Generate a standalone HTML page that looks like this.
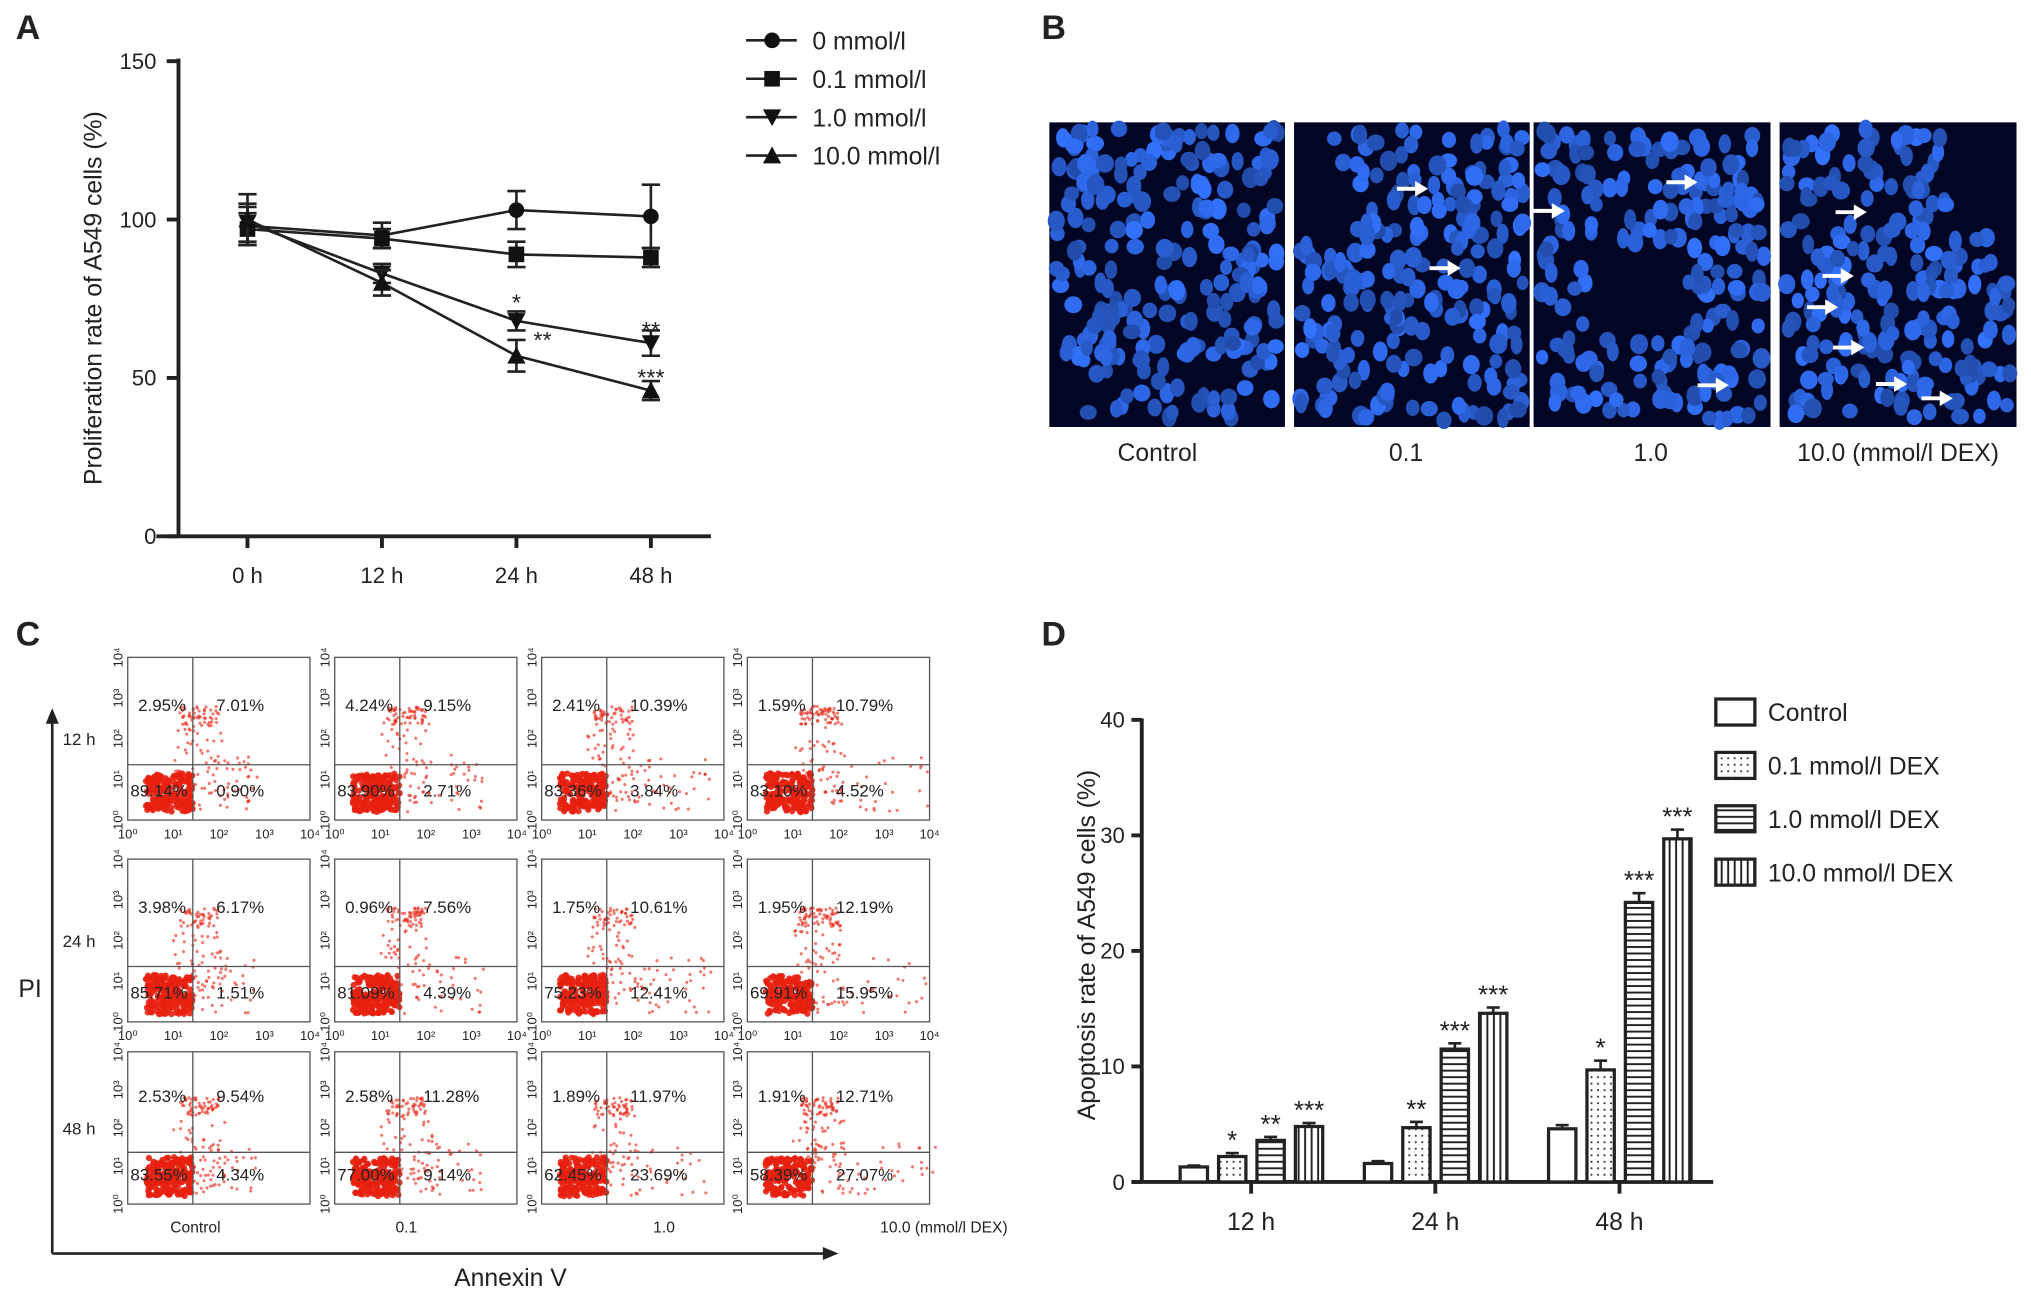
<!DOCTYPE html>
<html><head><meta charset="utf-8"><style>
html,body{margin:0;padding:0;background:#fff}
svg{display:block}
text{font-family:"Liberation Sans",Arial,sans-serif;fill:#222}
</style></head><body>
<svg id="fig" width="2031" height="1290" viewBox="0 0 1560 991" xmlns="http://www.w3.org/2000/svg">
<g id="panelA"></g>
<g id="panelB"></g>
<g id="panelC"></g>
<g id="panelD"></g>
</svg>
<script>
// Panel A data
const aCats = ["0 h","12 h","24 h","48 h"];
const aS0 = [98,95,103,101];
const aS01 = [97,94,89,88];
const aS1 = [99,83,68,61];
const aS10 = [100,80,57,46];
const aErr0 = [6,4,6,10];
const aErr01 = [5,3,4,3];
const aErr1 = [6,3,3,4];
const aErr10 = [8,4,5,3];
const aYTicks = [0,50,100,150];
const aSeriesNames = ["0 mmol/l","0.1 mmol/l","1.0 mmol/l","10.0 mmol/l"];
// Panel D data
const dCats = ["12 h","24 h","48 h"];
const dCtrl = [1.3,1.6,4.6];
const d01 = [2.2,4.7,9.7];
const d1 = [3.6,11.5,24.2];
const d10 = [4.8,14.6,29.7];
const dErr = [0.3,0.5,0.8];
const dYTicks = [0,10,20,30,40];
const dStars01 = ["*","**","*"];
const dStars1 = ["**","***","***"];
const dStars10 = ["***","***","***"];
const dNames = ["Control","0.1 mmol/l  DEX","1.0 mmol/l  DEX","10.0 mmol/l  DEX"];

const NS="http://www.w3.org/2000/svg";
function mk(parent,tag,attrs,txt){const e=document.createElementNS(NS,tag);for(const k in attrs)e.setAttribute(k,attrs[k]);if(txt!==undefined)e.textContent=txt;parent.appendChild(e);return e;}

// ---------- Panel A ----------
const A=document.getElementById('panelA');
const ay=v=>412-(v/150)*365;
const ax=i=>190+i*103.3;
let t=mk(A,'text',{x:12,y:30,'font-size':26,'font-weight':'bold','font-family':'Liberation Serif'},'A');

mk(A,'line',{x1:137,y1:45,x2:137,y2:413,stroke:'#222','stroke-width':3});
mk(A,'line',{x1:120,y1:412,x2:546,y2:412,stroke:'#222','stroke-width':3});
aYTicks.forEach(v=>{mk(A,'line',{x1:128,y1:ay(v),x2:137,y2:ay(v),stroke:'#222','stroke-width':3});
 const tt=mk(A,'text',{x:120,y:ay(v)+6,'font-size':17,'text-anchor':'end'},v);
 });
aCats.forEach((c,i)=>{mk(A,'line',{x1:ax(i),y1:412,x2:ax(i),y2:421,stroke:'#222','stroke-width':3});
 const tt=mk(A,'text',{x:ax(i),y:448,'font-size':17,'text-anchor':'middle'},c);
 });
t=mk(A,'text',{x:78,y:229,'font-size':19,'text-anchor':'middle',transform:'rotate(-90 78 229)'},'Proliferation rate of A549 cells (%)');

function marker(g,type,x,y){
 if(type===0)mk(g,'circle',{cx:x,cy:y,r:6,fill:'#111'});
 else if(type===1)mk(g,'rect',{x:x-6,y:y-6,width:12,height:12,fill:'#111'});
 else if(type===2)mk(g,'polygon',{points:`${x-7},${y-6} ${x+7},${y-6} ${x},${y+7}`,fill:'#111'});
 else mk(g,'polygon',{points:`${x-7},${y+6} ${x+7},${y+6} ${x},${y-7}`,fill:'#111'});
}
[[aS0,aErr0],[aS01,aErr01],[aS1,aErr1],[aS10,aErr10]].forEach(([s,e],k)=>{
 const g=mk(A,'g',{});
 mk(g,'polyline',{points:s.map((v,i)=>ax(i)+','+ay(v)).join(' '),fill:'none',stroke:'#222','stroke-width':2});
 s.forEach((v,i)=>{const x=ax(i);
  mk(g,'line',{x1:x,y1:ay(v+e[i]),x2:x,y2:ay(v-e[i]),stroke:'#222','stroke-width':2});
  mk(g,'line',{x1:x-7,y1:ay(v+e[i]),x2:x+7,y2:ay(v+e[i]),stroke:'#222','stroke-width':2});
  mk(g,'line',{x1:x-7,y1:ay(v-e[i]),x2:x+7,y2:ay(v-e[i]),stroke:'#222','stroke-width':2});
  marker(g,k,x,ay(v));});
});
[[ax(2),ay(aS1[2])-18,'*'],[ax(2)+20,ay(aS10[2])-16,'**'],[ax(3),ay(aS1[3])-14,'**'],[ax(3),ay(aS10[3])-14,'***']].forEach(a=>{
 const tt=mk(A,'text',{x:a[0],y:a[1]+10,'font-size':18,'text-anchor':'middle'},a[2]);
 });
aSeriesNames.forEach((n,k)=>{const y=31+k*29.5;
 const g=mk(A,'g',{});
 mk(g,'line',{x1:573,y1:y,x2:612,y2:y,stroke:'#222','stroke-width':2});marker(g,k,593,y);
 mk(g,'text',{x:624,y:y+7,'font-size':19},n);});

// ---------- Panel B ----------
const B=document.getElementById('panelB');
t=mk(B,'text',{x:800,y:30,'font-size':26,'font-weight':'bold','font-family':'Liberation Serif'},'B');

const bx=[806,994,1178,1367],bw=[181,181,182,182];
let seed=7;const rnd=()=>{seed=(seed*9301+49297)%233280;return seed/233280;};
bx.forEach((x0,p)=>{const g=mk(B,'g',{});
 mk(g,'rect',{x:x0,y:94,width:bw[p],height:234,fill:'#020624'});
 for(let i=0;i<230;i++){const cx=x0+5+rnd()*(bw[p]-10),cy=99+rnd()*224;
  if(p===1&&cx<x0+30&&cy<180)continue;if(p===2&&cx>x0+40&&cx<x0+110&&cy>190&&cy<260)continue;if(p===3&&cx>x0+130&&cy<180)continue;
  const b=170+Math.floor(rnd()*85);mk(g,'ellipse',{cx,cy,rx:4.5+rnd()*2.5,ry:5.5+rnd()*2.5,fill:`rgb(${Math.floor(b*0.2)},${Math.floor(b*0.45)},${b})`});}
});
[[1085,145],[1110,206],[1190,162],[1292,140],[1316,296],[1422,163],[1412,212],[1400,236],[1420,267],[1453,295],[1488,306]].forEach(a=>{
 const g=mk(B,'g',{});
 mk(g,'line',{x1:a[0]-12,y1:a[1],x2:a[0]+4,y2:a[1],stroke:'#fff','stroke-width':3});
 mk(g,'polygon',{points:`${a[0]+12},${a[1]} ${a[0]+2},${a[1]-6} ${a[0]+2},${a[1]+6}`,fill:'#fff'});});
[[889,'Control'],[1080,'0.1'],[1268,'1.0'],[1458,'10.0 (mmol/l  DEX)']].forEach(a=>{
 const tt=mk(B,'text',{x:a[0],y:354,'font-size':19,'text-anchor':'middle'},a[1]);});

// ---------- Panel C ----------
const C=document.getElementById('panelC');
t=mk(C,'text',{x:12,y:496,'font-size':26,'font-weight':'bold','font-family':'Liberation Serif'},'C');

mk(C,'line',{x1:40,y1:963,x2:40,y2:550,stroke:'#222','stroke-width':2});
mk(C,'polygon',{points:'40,544 35,556 45,556',fill:'#222'});
mk(C,'line',{x1:40,y1:963,x2:636,y2:963,stroke:'#222','stroke-width':2});
mk(C,'polygon',{points:'644,963 632,958 632,968',fill:'#222'});
t=mk(C,'text',{x:14,y:766,'font-size':19},'PI');
t=mk(C,'text',{x:392,y:988,'font-size':19,'text-anchor':'middle'},'Annexin V');
const cx0=[98,257,416,574],cy0=[505,660,808],ch=[125,125,117],cw=140;
const pct=[
[["2.95%","7.01%","89.14%","0.90%"],["4.24%","9.15%","83.90%","2.71%"],["2.41%","10.39%","83.36%","3.84%"],["1.59%","10.79%","83.10%","4.52%"]],
[["3.98%","6.17%","85.71%","1.51%"],["0.96%","7.56%","81.09%","4.39%"],["1.75%","10.61%","75.23%","12.41%"],["1.95%","12.19%","69.91%","15.95%"]],
[["2.53%","9.54%","83.55%","4.34%"],["2.58%","11.28%","77.00%","9.14%"],["1.89%","11.97%","62.45%","23.69%"],["1.91%","12.71%","58.39%","27.07%"]]];
const rowLab=["12 h","24 h","48 h"];
cy0.forEach((y0,r)=>{
 let tt=mk(C,'text',{x:48,y:y0+ch[r]/2+5,'font-size':13},rowLab[r]);
 cx0.forEach((x0,c)=>{const g=mk(C,'g',{});
  const h=ch[r],qx=x0+50,qy=y0+h*0.66;
  for(let i=0;i<320;i++){let px,py,rr=rnd();
   if(rr<0.55){px=x0+14+rnd()*36;py=y0+h-6-rnd()*30;}
   else if(rr<0.72){px=x0+40+rnd()*30;py=y0+h*0.3+rnd()*14;}
   else if(rr<0.88){px=x0+35+rnd()*40;py=y0+h*0.4+rnd()*h*0.5;}
   else{px=x0+50+rnd()*50*(1+c*0.3);py=y0+h*0.6+rnd()*h*0.35;}
   mk(g,'circle',{cx:px,cy:py,r:rr<0.55?2.4:1.2,fill:'#e8200f','fill-opacity':rr<0.55?0.9:0.6});}
  mk(g,'rect',{x:x0,y:y0,width:cw,height:h,fill:'none',stroke:'#555','stroke-width':1});
  mk(g,'line',{x1:qx,y1:y0,x2:qx,y2:y0+h,stroke:'#555','stroke-width':1});
  mk(g,'line',{x1:x0,y1:qy,x2:x0+cw,y2:qy,stroke:'#555','stroke-width':1});
  const p=pct[r][c];
  mk(g,'text',{x:x0+8,y:y0+h*0.33,'font-size':13},p[0]);
  mk(g,'text',{x:qx+18,y:y0+h*0.33,'font-size':13},p[1]);
  mk(g,'text',{x:x0+2,y:y0+h-18,'font-size':13},p[2]);
  mk(g,'text',{x:qx+18,y:y0+h-18,'font-size':13},p[3]);
  ["10⁰","10¹","10²","10³","10⁴"].forEach((s,k)=>{mk(g,'text',{x:x0-4,y:y0+h-k*h/4,'font-size':10,'text-anchor':'middle',transform:`rotate(-90 ${x0-4} ${y0+h-k*h/4})`},s);
   if(r<2)mk(g,'text',{x:x0+k*cw/4,y:y0+h+14,'font-size':10,'text-anchor':'middle'},s);});
 });});
[[150,'Control'],[312,'0.1'],[510,'1.0'],[725,'10.0 (mmol/l  DEX)']].forEach(a=>{const tt=mk(C,'text',{x:a[0],y:947,'font-size':12,'text-anchor':'middle'},a[1]);});

// ---------- Panel D ----------
const D=document.getElementById('panelD');
t=mk(D,'text',{x:800,y:496,'font-size':26,'font-weight':'bold','font-family':'Liberation Serif'},'D');

const dy=v=>908-(v/40)*355;
const gx=i=>961+i*141.5;
mk(D,'line',{x1:877,y1:552,x2:877,y2:909,stroke:'#222','stroke-width':3});
mk(D,'line',{x1:870,y1:908,x2:1316,y2:908,stroke:'#222','stroke-width':3});
dYTicks.forEach(v=>{mk(D,'line',{x1:869,y1:dy(v),x2:877,y2:dy(v),stroke:'#222','stroke-width':3});
 const tt=mk(D,'text',{x:864,y:dy(v)+6,'font-size':17,'text-anchor':'end'},v);});
dCats.forEach((c,i)=>{mk(D,'line',{x1:gx(i),y1:908,x2:gx(i),y2:917,stroke:'#222','stroke-width':3});
 const tt=mk(D,'text',{x:gx(i),y:945,'font-size':19,'text-anchor':'middle'},c);});
t=mk(D,'text',{x:841,y:726,'font-size':19,'text-anchor':'middle',transform:'rotate(-90 841 726)'},'Apoptosis rate of A549 cells (%)');

const defs=mk(D,'defs',{});
let pt=mk(defs,'pattern',{id:'dots',width:5,height:5,patternUnits:'userSpaceOnUse'});mk(pt,'rect',{width:5,height:5,fill:'#fff'});mk(pt,'circle',{cx:2.5,cy:2.5,r:0.8,fill:'#333'});
pt=mk(defs,'pattern',{id:'hlines',width:5,height:5,patternUnits:'userSpaceOnUse'});mk(pt,'rect',{width:5,height:5,fill:'#fff'});mk(pt,'line',{x1:0,y1:2.5,x2:5,y2:2.5,stroke:'#222','stroke-width':1.5});
pt=mk(defs,'pattern',{id:'vlines',width:5,height:5,patternUnits:'userSpaceOnUse'});mk(pt,'rect',{width:5,height:5,fill:'#fff'});mk(pt,'line',{x1:2.5,y1:0,x2:2.5,y2:5,stroke:'#222','stroke-width':1.5});
const fills=['#fff','url(#dots)','url(#hlines)','url(#vlines)'];
const stars=[null,dStars01,dStars1,dStars10];
[dCtrl,d01,d1,d10].forEach((s,k)=>{s.forEach((v,i)=>{
 const x=gx(i)-44+k*29.5,w=21;
 const r=mk(D,'rect',{x:x-w/2,y:dy(v),width:w,height:908-dy(v),fill:fills[k],stroke:'#222','stroke-width':2.5});
 
 const e=dErr[i]*(k===0?0.4:1);
 mk(D,'line',{x1:x,y1:dy(v),x2:x,y2:dy(v+e),stroke:'#222','stroke-width':2});
 mk(D,'line',{x1:x-5,y1:dy(v+e),x2:x+5,y2:dy(v+e),stroke:'#222','stroke-width':2});
 if(stars[k]){const tt=mk(D,'text',{x:x,y:dy(v+e)-3,'font-size':20,'text-anchor':'middle'},stars[k][i]);}
});});
dNames.forEach((n,k)=>{const y=547+k*41;const g=mk(D,'g',{});
 mk(g,'rect',{x:1318,y:y-10,width:30,height:20,fill:fills[k],stroke:'#222','stroke-width':2.5});
 mk(g,'text',{x:1358,y:y+7,'font-size':19},n);});
</script>
</body></html>
